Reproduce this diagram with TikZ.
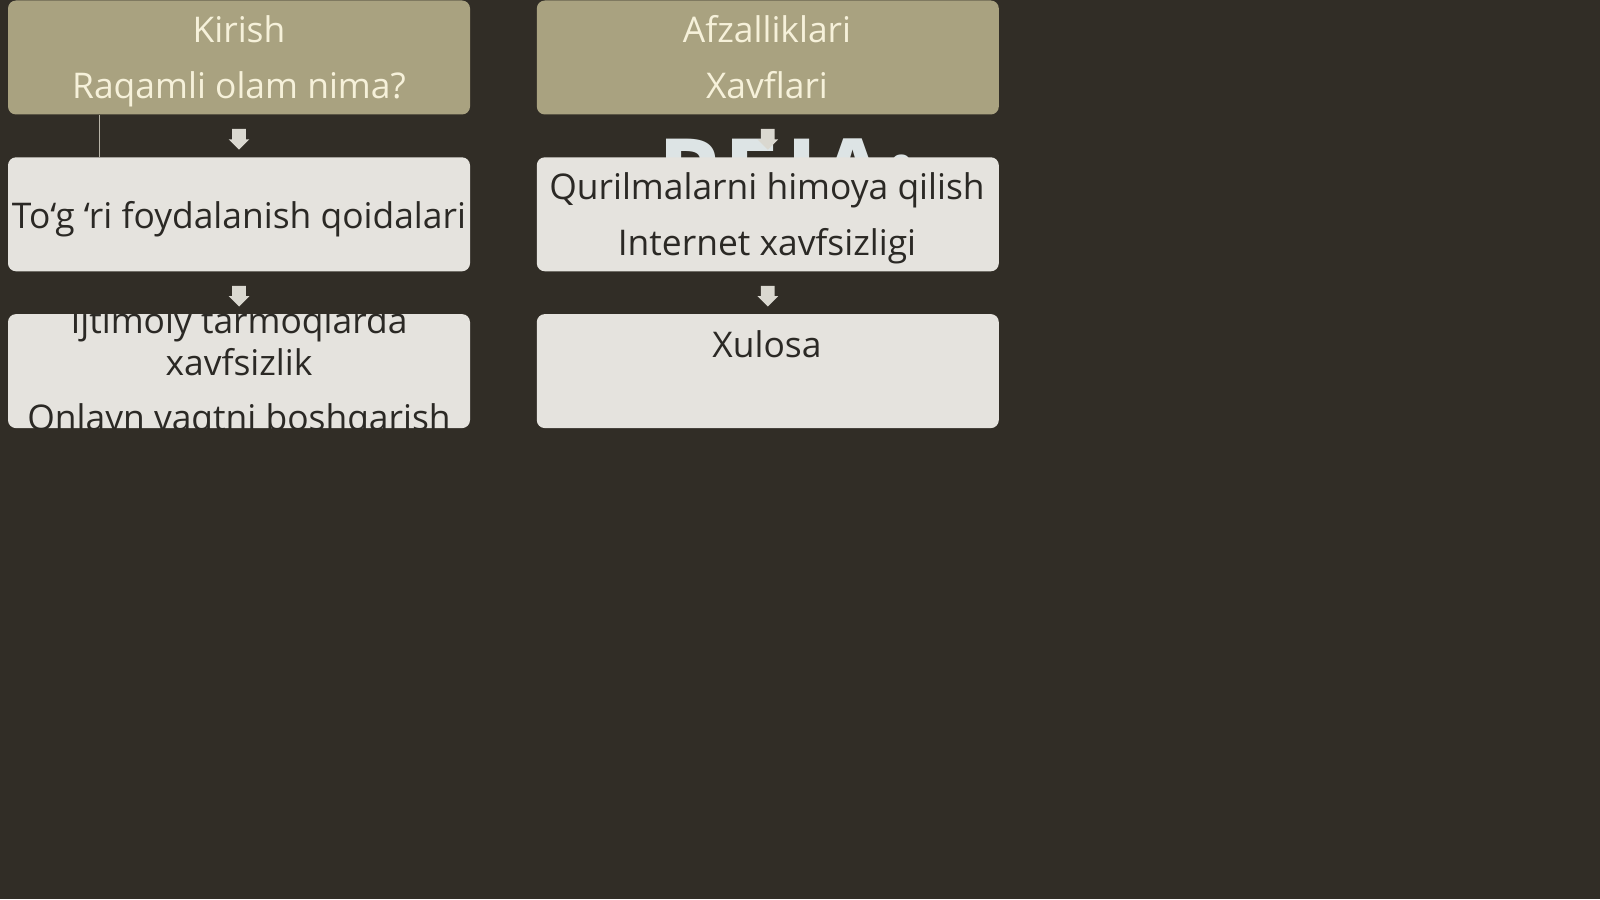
\documentclass[tikz,border=0pt]{standalone}
\usepackage{fontspec}
\setmainfont{Open Sans}
\usetikzlibrary{positioning,calc,shapes.arrows}

\definecolor{bgdark}{HTML}{312D26}
\definecolor{topfill}{HTML}{A9A280}
\definecolor{toptext}{HTML}{F6F1DA}
\definecolor{lightfill}{HTML}{E5E3DE}
\definecolor{lighttext}{HTML}{2B2925}
\definecolor{arrowgray}{HTML}{DAD8D0}
\definecolor{rejablue}{HTML}{DDE4E5}
\definecolor{linegray}{HTML}{B8B4A8}

\tikzset{
  topbox/.style={rectangle, rounded corners=4pt, fill=topfill,
    minimum width=231pt, minimum height=57pt, inner sep=0pt},
  lightbox/.style={rectangle, rounded corners=4pt, fill=lightfill,
    minimum width=231pt, minimum height=57pt, inner sep=0pt},
  topword/.style={text=toptext, inner sep=0pt, anchor=base,
    font=\fontsize{17.7}{21}\selectfont},
  lineword/.style={text=lighttext, inner sep=0pt, anchor=base,
    font=\fontsize{17.7}{21}\selectfont},
  downarrow/.style={single arrow, fill=arrowgray, draw=none, inner sep=3.25pt,
    minimum width=10pt, minimum height=10pt, single arrow head extend=1.75pt,
    shape border rotate=270}
}

\begin{document}
\begin{tikzpicture}[x=0.5pt,y=-0.5pt]
%background
\fill[bgdark] (0,0) rectangle (1600,899);
\useasboundingbox (0,0) rectangle (1600,899);

% Title behind the boxes
\node[text=rejablue, inner sep=0pt, anchor=base west, font=\fontsize{50}{60}\bfseries\selectfont] (reja) at (657,210) {REJA:};

%Shape: boxes
\node[topbox] (kirish) at (239,57.5) {};
\node[topbox, right=33pt of kirish] (afzal) {};
\node[lightbox, below=21pt of kirish] (togri) {};
\node[lightbox, below=21pt of afzal] (quril) {};
\node[lightbox, below=21pt of togri] (ijtim) {};
\node[lightbox, below=21pt of quril] (xulosa) {};

% Text Node
\node[topword] (kir1) at (239,43) {Kirish};
\node[topword] (kir2) at (239,98) {Raqamli olam nima?};
% Text Node
\node[topword] (afz1) at (767,43) {Afzalliklari};
\node[topword] (afz2) at (767,98) {Xavflari};
% Text Node
\node[lineword] (tog1) at (239,228) {To‘g ‘ri foydalanish qoidalari};
% Text Node
\node[lineword] (qur1) at (767,199) {Qurilmalarni himoya qilish};
\node[lineword] (qur2) at (767,255) {Internet xavfsizligi};
% Text Node
\node[lineword] (xul1) at (767,357) {Xulosa};
% Text Node (clipped by its box)
\begin{scope}
\clip[rounded corners=4pt] (ijtim.south west) rectangle (ijtim.north east);
\node[lineword] (ijt1) at (239,333) {Ijtimoiy tarmoqlarda};
\node[lineword] (ijt2) at (239,375) {xavfsizlik};
\node[lineword] (ijt3) at (239,430) {Onlayn vaqtni boshqarish};
\end{scope}

%Straight Lines
\draw[linegray, line width=0.8pt] ([xshift=46pt]kirish.south west) -- ([xshift=46pt]togri.north west);

% Arrows
\node[downarrow] (a1) at ($(kirish.south)!0.5!(togri.north)$) {};
\node[downarrow] (a2) at ($(togri.south)!0.5!(ijtim.north)$) {};
\node[downarrow] (a3) at ($(afzal.south)!0.5!(quril.north)$) {};
\node[downarrow] (a4) at ($(quril.south)!0.5!(xulosa.north)$) {};

\end{tikzpicture}
\end{document}
